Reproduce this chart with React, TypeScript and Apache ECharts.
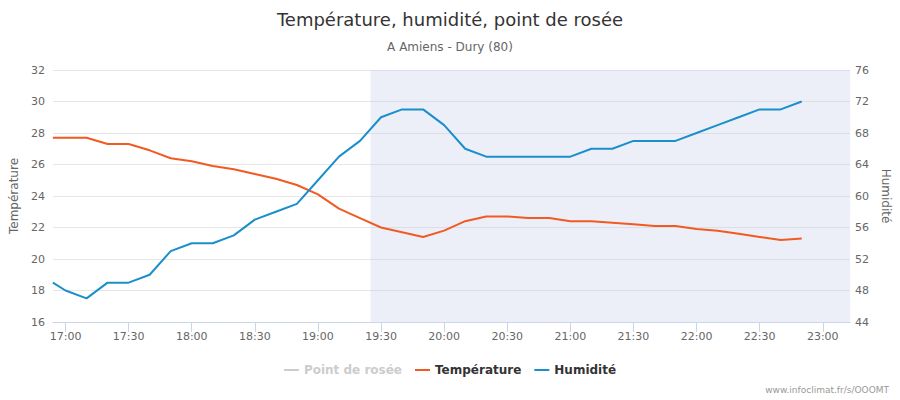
import React, { useEffect, useRef } from "react";
import * as echarts from "echarts";

const times = [
  "16:54", "17:00", "17:10", "17:20", "17:30", "17:40", "17:50",
  "18:00", "18:10", "18:20", "18:30", "18:40", "18:50",
  "19:00", "19:10", "19:20", "19:30", "19:40", "19:50",
  "20:00", "20:10", "20:20", "20:30", "20:40", "20:50",
  "21:00", "21:10", "21:20", "21:30", "21:40", "21:50",
  "22:00", "22:10", "22:20", "22:30", "22:40", "22:50",
];

const temperature = [
  27.7, 27.7, 27.7, 27.3, 27.3, 26.9, 26.4,
  26.2, 25.9, 25.7, 25.4, 25.1, 24.7,
  24.1, 23.2, 22.6, 22.0, 21.7, 21.4,
  21.8, 22.4, 22.7, 22.7, 22.6, 22.6,
  22.4, 22.4, 22.3, 22.2, 22.1, 22.1,
  21.9, 21.8, 21.6, 21.4, 21.2, 21.3,
];

const humidity = [
  49, 48, 47, 49, 49, 50, 53,
  54, 54, 55, 57, 58, 59,
  62, 65, 67, 70, 71, 71,
  69, 66, 65, 65, 65, 65,
  65, 66, 66, 67, 67, 67,
  68, 69, 70, 71, 71, 72,
];

const dewPoint: number[] = [];

const xTickLabels = [
  "17:00", "17:30", "18:00", "18:30", "19:00", "19:30", "20:00",
  "20:30", "21:00", "21:30", "22:00", "22:30", "23:00",
];

const xMin = "16:54";
const xMax = "23:13";
const nightStart = "19:25";

const toMin = (t: string) => {
  const [h, m] = t.split(":").map(Number);
  return h * 60 + m;
};
const fromMin = (v: number) => {
  const h = Math.floor(v / 60);
  const m = Math.round(v - h * 60);
  return `${h}:${m < 10 ? "0" + m : m}`;
};

export default function App() {
  const ref = useRef<HTMLDivElement>(null);
  useEffect(() => {
    if (!ref.current) return;
    const chart = echarts.init(ref.current, undefined, { renderer: "svg" });
    const tickVals = xTickLabels.map(toMin);
    const font = "DejaVu Sans";
    chart.setOption({
      animation: false,
      backgroundColor: "#ffffff",
      textStyle: { fontFamily: font },
      title: [
        {
          text: "Température, humidité, point de rosée",
          left: "center",
          top: 5,
          textStyle: { fontSize: 18, fontWeight: "normal", color: "#333333", fontFamily: font },
        },
        {
          text: "A Amiens - Dury (80)",
          left: "center",
          top: 36,
          textStyle: { fontSize: 12, fontWeight: "normal", color: "#666666", fontFamily: font },
        },
      ],
      legend: {
        bottom: 19,
        left: "center",
        itemGap: 13,
        itemWidth: 15,
        itemHeight: 2,
        icon: "rect",
        inactiveColor: "#cccccc",
        textStyle: { fontSize: 12, fontWeight: "bold", color: "#333333", fontFamily: font },
        data: ["Point de rosée", "Température", "Humidité"],
        selected: { "Point de rosée": false, "Température": true, "Humidité": true },
      },
      grid: { left: 49, right: 48, top: 70, bottom: 78, containLabel: false },
      xAxis: {
        type: "value",
        min: toMin(xMin),
        max: toMin(xMax),
        axisLine: { show: true, lineStyle: { color: "#ccd6eb", width: 1 } },
        axisTick: { show: true, length: 10, lineStyle: { color: "#ccd6eb" }, customValues: tickVals },
        axisLabel: {
          customValues: tickVals,
          formatter: (v: number) => fromMin(v),
          color: "#666666",
          fontSize: 11,
          margin: 9,
          fontFamily: font,
        },
        splitLine: { show: false },
      },
      yAxis: [
        {
          type: "value",
          min: 16,
          max: 32,
          interval: 2,
          name: "Température",
          nameLocation: "middle",
          nameRotate: 90,
          nameGap: 28,
          nameTextStyle: { color: "#666666", fontSize: 12, fontFamily: font },
          axisLine: { show: false },
          axisTick: { show: false },
          axisLabel: { color: "#666666", fontSize: 11, margin: 8, fontFamily: font },
          splitLine: { show: true, lineStyle: { color: "#e6e6e6", width: 1 } },
        },
        {
          type: "value",
          min: 44,
          max: 76,
          interval: 4,
          position: "right",
          name: "Humidité",
          nameLocation: "middle",
          nameRotate: -90,
          nameGap: 27,
          nameTextStyle: { color: "#666666", fontSize: 12, fontFamily: font },
          axisLine: { show: false },
          axisTick: { show: false },
          axisLabel: { color: "#666666", fontSize: 11, margin: 5, fontFamily: font },
          splitLine: { show: false },
        },
      ],
      series: [
        {
          name: "Point de rosée",
          type: "line",
          yAxisIndex: 0,
          showSymbol: false,
          color: "#3cb043",
          lineStyle: { width: 2 },
          data: dewPoint.map((v, i) => [toMin(times[i]), v]),
        },
        {
          name: "Température",
          type: "line",
          yAxisIndex: 0,
          showSymbol: false,
          color: "#f15a22",
          lineStyle: { width: 2 },
          z: 3,
          data: temperature.map((v, i) => [toMin(times[i]), v]),
        },
        {
          name: "Humidité",
          type: "line",
          yAxisIndex: 1,
          showSymbol: false,
          color: "#1a8fca",
          lineStyle: { width: 2 },
          z: 3,
          data: humidity.map((v, i) => [toMin(times[i]), v]),
          markArea: {
            silent: true,
            z: 1,
            itemStyle: { color: "rgba(196, 206, 232, 0.32)" },
            data: [[{ xAxis: toMin(nightStart) }, { xAxis: toMin(xMax) }]],
          },
        },
      ],
      graphic: [
        {
          type: "text",
          right: 11,
          top: 385,
          style: {
            text: "www.infoclimat.fr/s/OOOMT",
            fill: "#999999",
            fontSize: 9,
            fontFamily: font,
          },
        },
      ],
    });
    return () => chart.dispose();
  }, []);
  return (
    <div
      ref={ref}
      style={{ width: 900, height: 400, position: "absolute", left: 0, top: 0 }}
    />
  );
}
